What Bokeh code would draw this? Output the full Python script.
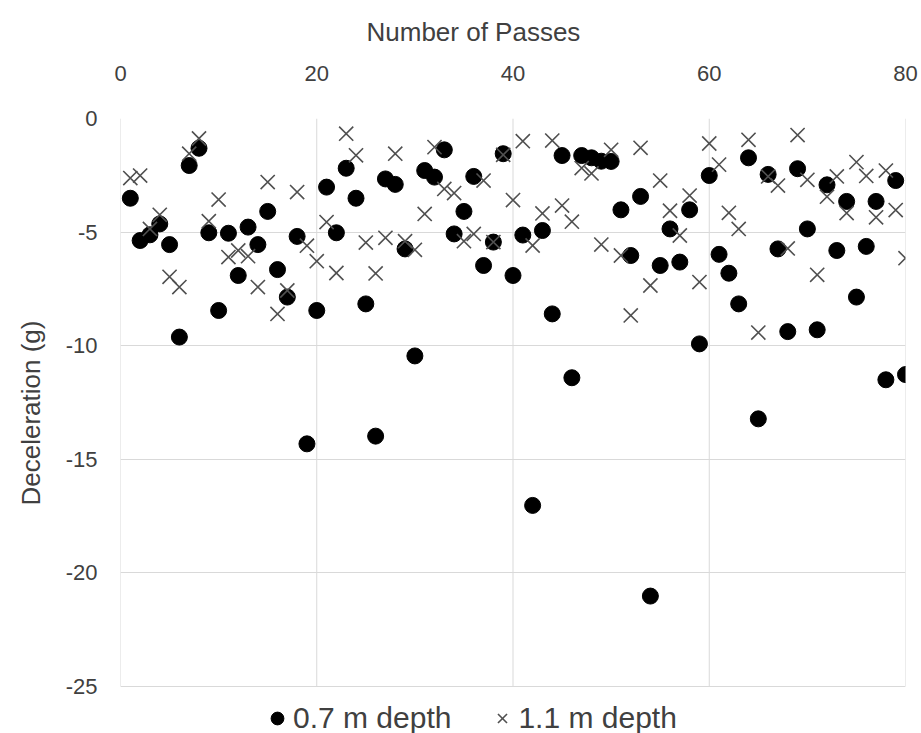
from bokeh.plotting import figure
from bokeh.models import FixedTicker, Legend, LegendItem, Range1d, Title
from bokeh.embed import file_html
from bokeh.resources import INLINE

passes = list(range(1, 81))

depth_07 = [
    -3.51, -5.37, -5.12, -4.64, -5.55, -9.62, -2.07, -1.31, -5.03, -8.45,
    -5.05, -6.91, -4.78, -5.55, -4.09, -6.65, -7.86, -5.19, -14.32, -8.45,
    -3.02, -5.03, -2.19, -3.51, -8.16, -13.98, -2.66, -2.90, -5.74, -10.45,
    -2.29, -2.58, -1.38, -5.08, -4.09, -2.55, -6.47, -5.44, -1.55, -6.91,
    -5.13, -17.03, -4.93, -8.60, -1.63, -11.41, -1.63, -1.73, -1.88, -1.89,
    -4.02, -6.03, -3.43, -21.02, -6.47, -4.86, -6.32, -4.02, -9.92, -2.51,
    -5.98, -6.81, -8.16, -1.73, -13.22, -2.46, -5.74, -9.38, -2.21, -4.86,
    -9.30, -2.92, -5.81, -3.65, -7.86, -5.63, -3.65, -11.50, -2.73, -11.27,
]

depth_11 = [
    -2.62, -2.51, -4.86, -4.24, -6.97, -7.42, -1.55, -0.88, -4.52, -3.57,
    -6.10, -5.81, -6.06, -7.42, -2.80, -8.60, -7.57, -3.24, -5.60, -6.28,
    -4.56, -6.80, -0.67, -1.62, -5.46, -6.82, -5.25, -1.55, -5.40, -5.78,
    -4.20, -1.26, -3.10, -3.28, -5.40, -5.08, -2.73, -5.44, -1.60, -3.59,
    -1.00, -5.59, -4.18, -0.97, -3.83, -4.54, -2.18, -2.42, -5.55, -1.38,
    -6.03, -8.67, -1.29, -7.35, -2.73, -4.06, -5.15, -3.39, -7.20, -1.10,
    -2.03, -4.15, -4.86, -0.94, -9.42, -2.55, -2.95, -5.72, -0.73, -2.70,
    -6.88, -3.44, -2.55, -4.16, -1.92, -2.53, -4.35, -2.29, -4.03, -6.15,
]

x_ticks = [0, 20, 40, 60, 80]
y_ticks = [0, -5, -10, -15, -20, -25]
series_names = ["0.7 m depth", "1.1 m depth"]
x_title = "Number of Passes"
y_title = "Deceleration (g)"

FONT = "Liberation Sans"
TXT = "#404040"
GRID = "#d9d9d9"

# layout (pixels): data box spans 118..686 vertically; frame extends to the
# canvas bottom so the legend can sit inside it, below the -25 line
W, H = 921, 733
TOP, BOX_BOTTOM = 118, 686
y_lo, y_hi = min(y_ticks), max(y_ticks)
y_start = y_hi - (y_hi - y_lo) * (H - TOP) / (BOX_BOTTOM - TOP)

p = figure(width=W, height=H, output_backend="svg", toolbar_location=None,
           x_axis_location="above",
           x_range=Range1d(min(x_ticks), max(x_ticks)),
           y_range=Range1d(y_start, y_hi),
           min_border_left=120, min_border_right=16, min_border_top=TOP,
           min_border_bottom=0)

p.outline_line_color = None
p.background_fill_color = "white"
p.border_fill_color = "white"

# vertical grid lines limited to the data box
p.segment(x0=x_ticks, y0=[y_lo] * len(x_ticks), x1=x_ticks,
          y1=[y_hi] * len(x_ticks), line_color=GRID, line_width=1)
p.xgrid.grid_line_color = None
p.ygrid.ticker = FixedTicker(ticks=y_ticks)
p.ygrid.grid_line_color = GRID

r1 = p.scatter(passes, depth_07, marker="circle", size=16,
               fill_color="black", line_color="black")
r2 = p.scatter(passes, depth_11, marker="x", size=20,
               line_color="#505050", line_width=1.6)

for ax in (p.xaxis[0], p.yaxis[0]):
    ax.axis_line_color = None
    ax.major_tick_line_color = None
    ax.minor_tick_line_color = None
    ax.major_label_text_font = FONT
    ax.major_label_text_font_size = "22px"
    ax.major_label_text_color = TXT

p.xaxis[0].ticker = FixedTicker(ticks=x_ticks)
p.yaxis[0].ticker = FixedTicker(ticks=y_ticks)
p.xaxis[0].major_label_overrides = {t: str(t) for t in x_ticks}
p.yaxis[0].major_label_overrides = {t: str(t) for t in y_ticks}
p.xaxis[0].major_label_standoff = 32
p.yaxis[0].major_label_standoff = 17

tx = Title(text=x_title, align="left", offset=246, text_font=FONT,
           text_font_size="26px", text_font_style="normal", text_color=TXT,
           vertical_align="top", standoff=28)
p.add_layout(tx, "above")
ty = Title(text=y_title, align="left", offset=(H - 505), text_font=FONT,
           text_font_size="26px", text_font_style="normal", text_color=TXT,
           vertical_align="top", standoff=29)
p.add_layout(ty, "left")

legend = Legend(items=[LegendItem(label=series_names[0], renderers=[r1]),
                       LegendItem(label=series_names[1], renderers=[r2])],
                orientation="horizontal", location=(141, -2),
                background_fill_alpha=0, border_line_color=None,
                label_text_font=FONT, label_text_font_size="30px",
                label_text_color=TXT, glyph_width=32, glyph_height=32,
                label_standoff=0, spacing=35, padding=0, margin=0)
p.add_layout(legend, "center")

open("out.html", "w").write(file_html(p, INLINE))
